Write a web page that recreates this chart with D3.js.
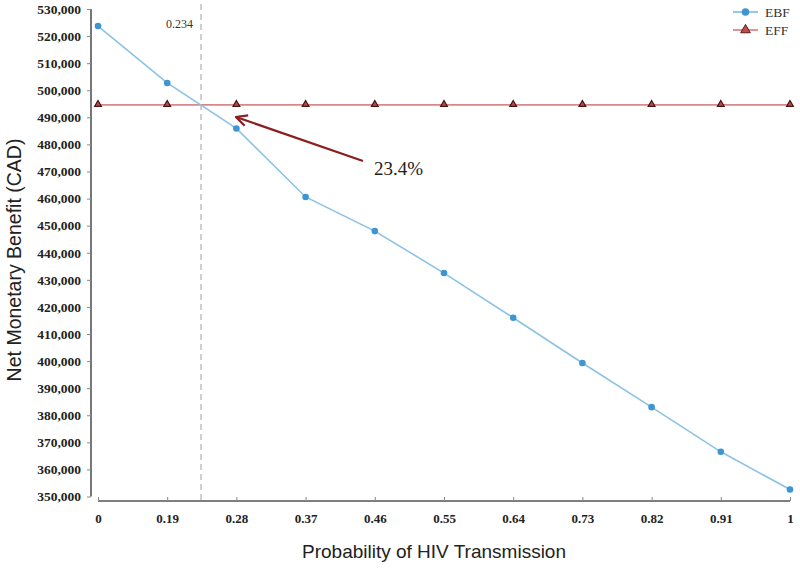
<!DOCTYPE html>
<html>
<head>
<meta charset="utf-8">
<script src="https://cdnjs.cloudflare.com/ajax/libs/d3/7.8.5/d3.min.js"></script>
<style>
  body { margin: 0; background: #fff; }
  svg { display: block; }
</style>
</head>
<body>
<script>
// Chart data
var probabilities = ["0", "0.19", "0.28", "0.37", "0.46", "0.55", "0.64", "0.73", "0.82", "0.91", "1"];
var ebfValues = [523700, 502700, 485900, 460600, 448000, 432500, 416000, 399300, 383000, 366500, 352600];
var effValues = [494600, 494600, 494600, 494600, 494600, 494600, 494600, 494600, 494600, 494600, 494600];
var yTicks = [350000, 360000, 370000, 380000, 390000, 400000, 410000, 420000, 430000, 440000,
              450000, 460000, 470000, 480000, 490000, 500000, 510000, 520000, 530000];
var threshold = 0.234;
var thresholdLabel = "0.234";
var annotationLabel = "23.4%";

var svgWidth = 800;
var svgHeight = 569;

var svg = d3.select("body")
  .append("svg")
  .attr("width", svgWidth)
  .attr("height", svgHeight);

// x is categorical with equal spacing
var xScale = d3.scalePoint()
  .domain(probabilities)
  .range([98, 790]);

var yScale = d3.scaleLinear()
  .domain([350000, 530000])
  .range([496.5, 9]);

// position of a numeric value between the categories
function xValue(v) {
  var nums = probabilities.map(Number);
  for (var i = 0; i < nums.length - 1; i++) {
    if (v >= nums[i] && v <= nums[i + 1]) {
      var t = (v - nums[i]) / (nums[i + 1] - nums[i]);
      return xScale(probabilities[i]) + t * xScale.step();
    }
  }
  return xScale(probabilities[0]);
}

var fmt = d3.format(",");
var serif = "Liberation Serif, Times New Roman, serif";
var sans = "Liberation Sans, Arial, sans-serif";

// y axis
var yAxis = d3.axisLeft(yScale)
  .tickValues(yTicks)
  .tickFormat(fmt)
  .tickSize(4)
  .tickPadding(6);

var yG = svg.append("g")
  .attr("transform", "translate(91,0)")
  .call(yAxis);
yG.select(".domain").attr("d", "M0,9V496.5").attr("stroke", "#555").attr("stroke-width", 1.6);
yG.selectAll(".tick line").attr("stroke", "#888");
yG.selectAll(".tick text")
  .attr("font-family", serif)
  .attr("font-weight", "bold")
  .attr("font-size", 13.5)
  .attr("fill", "#222");

// x axis
var xAxis = d3.axisBottom(xScale)
  .tickSize(-4)
  .tickPadding(13);

var xG = svg.append("g")
  .attr("transform", "translate(0,501)")
  .call(xAxis);
xG.select(".domain").attr("d", "M98,0H790").attr("stroke", "#555").attr("stroke-width", 1.6);
xG.selectAll(".tick line").attr("stroke", "#888");
xG.selectAll(".tick text")
  .attr("font-family", serif)
  .attr("font-weight", "bold")
  .attr("font-size", 13)
  .attr("fill", "#222");

// threshold dashed line
var tx = xValue(threshold);
svg.append("line")
  .attr("x1", tx).attr("x2", tx)
  .attr("y1", 4).attr("y2", 500)
  .attr("stroke", "#b0b0b0")
  .attr("stroke-width", 1.2)
  .attr("stroke-dasharray", "6,4");

svg.append("text")
  .attr("x", tx - 8)
  .attr("y", 28)
  .attr("text-anchor", "end")
  .attr("font-family", serif)
  .attr("font-size", 12)
  .attr("fill", "#333")
  .text(thresholdLabel);

var seriesLine = d3.line()
  .x(function(d, i) { return xScale(probabilities[i]); })
  .y(function(d) { return yScale(d); });

// EFF line (flat)
svg.append("path")
  .datum(effValues)
  .attr("fill", "none")
  .attr("stroke", "#d9888a")
  .attr("stroke-width", 1.6)
  .attr("d", seriesLine);

var tri = d3.symbol().type(d3.symbolTriangle).size(20);
svg.selectAll(".eff")
  .data(effValues)
  .enter()
  .append("path")
  .attr("class", "eff")
  .attr("d", tri)
  .attr("transform", function(d, i) { return "translate(" + xScale(probabilities[i]) + "," + (yScale(d) - 0.5) + ")"; })
  .attr("fill", "#b84a4a")
  .attr("stroke", "#4a1414")
  .attr("stroke-width", 1.2);

// EBF line
svg.append("path")
  .datum(ebfValues)
  .attr("fill", "none")
  .attr("stroke", "#8cc3e3")
  .attr("stroke-width", 1.6)
  .attr("d", seriesLine);

svg.selectAll(".ebf")
  .data(ebfValues)
  .enter()
  .append("circle")
  .attr("class", "ebf")
  .attr("cx", function(d, i) { return xScale(probabilities[i]); })
  .attr("cy", function(d) { return yScale(d); })
  .attr("r", 3.3)
  .attr("fill", "#3d95d2");

// annotation arrow
svg.append("defs").append("marker")
  .attr("id", "arrowhead")
  .attr("viewBox", "0 0 14 14")
  .attr("refX", 13)
  .attr("refY", 7)
  .attr("markerWidth", 14)
  .attr("markerHeight", 14)
  .attr("markerUnits", "userSpaceOnUse")
  .attr("orient", "auto")
  .append("path")
  .attr("d", "M2,1.5 L13,7 L2,12.5")
  .attr("fill", "none")
  .attr("stroke", "#8b1f1f")
  .attr("stroke-width", 2.2);

svg.append("line")
  .attr("x1", 363).attr("y1", 161)
  .attr("x2", 236).attr("y2", 117)
  .attr("stroke", "#8b1f1f")
  .attr("stroke-width", 2.2)
  .attr("marker-end", "url(#arrowhead)");

svg.append("text")
  .attr("x", 374)
  .attr("y", 175)
  .attr("font-family", serif)
  .attr("font-size", 19)
  .attr("fill", "#222")
  .text(annotationLabel);

// legend
var legend = [
  { name: "EBF", line: "#8cc3e3", type: "circle", y: 12 },
  { name: "EFF", line: "#d9888a", type: "tri", y: 30 }
];
var lg = svg.selectAll(".legend")
  .data(legend)
  .enter()
  .append("g")
  .attr("class", "legend")
  .attr("transform", function(d) { return "translate(733," + d.y + ")"; });

lg.append("line")
  .attr("x1", 0).attr("x2", 25)
  .attr("stroke", function(d) { return d.line; })
  .attr("stroke-width", 1.8);

lg.filter(function(d) { return d.type === "circle"; })
  .append("circle")
  .attr("cx", 12.5)
  .attr("r", 3.8)
  .attr("fill", "#3d95d2");

lg.filter(function(d) { return d.type === "tri"; })
  .append("path")
  .attr("d", d3.symbol().type(d3.symbolTriangle).size(40))
  .attr("transform", "translate(12.5,0)")
  .attr("fill", "#c8494a")
  .attr("stroke", "#5a1a1a")
  .attr("stroke-width", 1);

lg.append("text")
  .attr("x", 32)
  .attr("y", 4.5)
  .attr("font-family", serif)
  .attr("font-size", 13.5)
  .attr("fill", "#333")
  .text(function(d) { return d.name; });

// axis titles
svg.append("text")
  .attr("transform", "translate(21,260) rotate(-90)")
  .attr("text-anchor", "middle")
  .attr("font-family", sans)
  .attr("font-size", 19.5)
  .attr("fill", "#222")
  .text("Net Monetary Benefit (CAD)");

svg.append("text")
  .attr("x", 434)
  .attr("y", 558)
  .attr("text-anchor", "middle")
  .attr("font-family", sans)
  .attr("font-size", 19)
  .attr("fill", "#222")
  .text("Probability of HIV Transmission");
</script>
</body>
</html>
